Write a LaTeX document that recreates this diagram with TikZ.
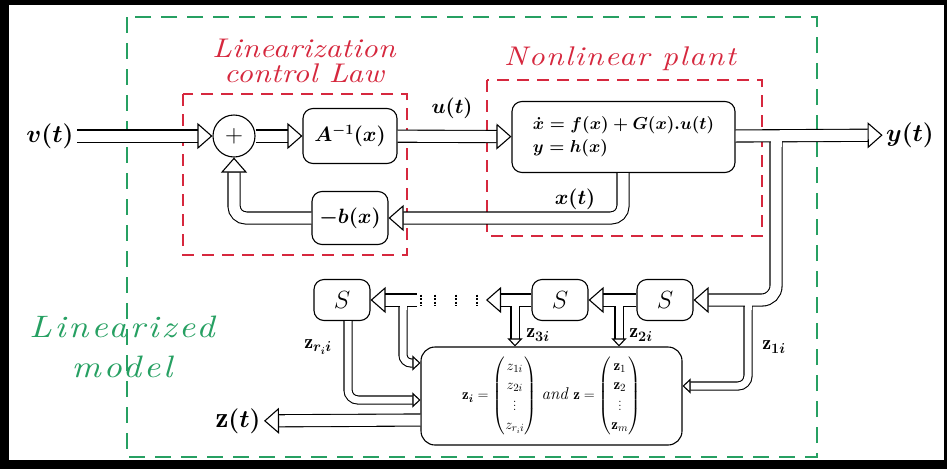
\documentclass[tikz,border=0pt]{standalone}
\usepackage{amsmath}
\usepackage{fontspec}
\usetikzlibrary{arrows.meta, positioning, calc}

\newfontfamily\labelit{lmroman10-italic.otf}
\definecolor{lawred}{RGB}{214,40,62}
\definecolor{modelgreen}{RGB}{38,160,98}
\newcommand{\spaced}[1]{\addfontfeatures{LetterSpace=#1}}

\tikzset{
  block/.style={draw, line width=1.1pt, rounded corners=10pt, fill=white, inner sep=2pt},
  sumnode/.style={draw, circle, line width=1.1pt, minimum size=42pt, inner sep=0pt, fill=white},
  bigarrow/.style={double=white, double distance=11pt, line width=1.1pt,
    -{Triangle[open, length=15pt, width=26pt, line width=1.1pt]}},
  smallarrow/.style={double=white, double distance=7pt, line width=1.1pt,
    -{Triangle[open, length=8pt, width=15pt, line width=1.1pt]}},
  gapbig/.style={draw=white, line width=11pt},
  gapsmall/.style={draw=white, line width=7pt},
  redbox/.style={draw=lawred, line width=1.4pt, dash pattern=on 12pt off 8pt},
  greenbox/.style={draw=modelgreen, line width=1.4pt, dash pattern=on 16pt off 10pt},
  grouplbl/.style={xscale=1.15, align=center},
  biglbl/.style={font=\fontsize{29}{32}\selectfont},
  midlbl/.style={font=\fontsize{22}{24}\selectfont},
  zlbl/.style={font=\fontsize{20}{22}\selectfont}
}

\begin{document}
\begin{tikzpicture}[x=1pt, y=-1pt]
  % frame
  \fill[black] (0,0) rectangle (947,469);
  \fill[white] (9,5) rectangle (944,460);
  \useasboundingbox (0,0) rectangle (947,469);

  % dashed groups
  \draw[greenbox] (127,17) rectangle (817,457);
  \draw[redbox] (183,94) rectangle (407,255);
  \draw[redbox] (487,80) rectangle (762,236);

  \node[grouplbl, lawred, font=\fontsize{27}{25}\selectfont\labelit\spaced{1}]
    (lawlbl) at (304,61) {Linearization\\control Law};
  \node[grouplbl, lawred, font=\fontsize{27}{25}\selectfont\labelit\spaced{5}]
    (plantlbl) at (620,59) {Nonlinear plant};
  \node[grouplbl, modelgreen, font=\fontsize{31}{40}\selectfont\labelit\spaced{8}]
    (modellbl) at (122,347) {Linearized\\model};

  % --- main loop ---
  \node[biglbl] (vin) at (50,136) {$\boldsymbol{v(t)}$};
  \node[sumnode, font=\fontsize{24}{26}\selectfont] (sum) at (234,136) {$+$};
  \node[block, minimum width=94pt, minimum height=55pt, midlbl] (Ainv) at (350,136)
    {$\boldsymbol{A^{-1}(x)}$};
  \node[block, minimum width=223pt, minimum height=71pt, align=left,
    font=\fontsize{18}{23}\selectfont] (plant) at (623.5,137)
    {$\boldsymbol{\dot x = f(x) + G(x).u(t)}$\\$\boldsymbol{y = h(x)}$};
  \node[midlbl] (ulbl) at (452,108) {$\boldsymbol{u(t)}$};
  \node[biglbl] (yout) at (910,135) {$\boldsymbol{y(t)}$};
  \node[block, minimum width=76pt, minimum height=53pt, midlbl] (negb) at (350,218)
    {$\boldsymbol{-b(x)}$};
  \node[midlbl] (xlbl) at (575,199) {$\boldsymbol{x(t)}$};

  % --- delay chain ---
  \node[block, minimum width=56pt, minimum height=41pt, font=\fontsize{25}{26}\selectfont]
    (S1) at (665,300) {$S$};
  \node[block, minimum width=56pt, minimum height=41pt, font=\fontsize{25}{26}\selectfont]
    (S2) at (560,300) {$S$};
  \node[block, minimum width=56pt, minimum height=41pt, font=\fontsize{25}{26}\selectfont]
    (Sr) at (342,300) {$S$};
  \node[block, rounded corners=14pt, minimum width=261pt, minimum height=98pt,
    font=\fontsize{15}{19}\selectfont] (zbox) at (551.5,396)
    {$\mathbf{z}_{\boldsymbol{i}} = \begin{pmatrix} z_{1i}\\ z_{2i}\\ \vdots\\ z_{r_i i}\end{pmatrix}$
     {\fontsize{17}{19}\selectfont\textit{and}} $\mathbf{z} = \begin{pmatrix} \mathbf{z}_1\\ \mathbf{z}_2\\ \vdots\\ \mathbf{z}_m\end{pmatrix}$};
  \node[biglbl] (zout) at (238,421) {$\mathbf{z}\boldsymbol{(t)}$};

  \node[zlbl] (z1lbl) at (774,347) {$\mathbf{z}_{\boldsymbol{1i}}$};
  \node[zlbl] (z2lbl) at (641,335) {$\mathbf{z}_{\boldsymbol{2i}}$};
  \node[zlbl] (z3lbl) at (538,335) {$\mathbf{z}_{\boldsymbol{3i}}$};
  \node[zlbl] (zrlbl) at (318,347) {$\mathbf{z}_{\boldsymbol{r_i i}}$};

  \coordinate (ybr) at (776,136);
  \coordinate (z1br) at (748,300);
  \coordinate (z2br) at (619,300);
  \coordinate (z3br) at (515,300);
  \coordinate (zrbr) at (403,300);
  \coordinate (dotsR) at (486,300);
  \coordinate (dotsL) at (417,300);
  \coordinate (fb) at (623,173);

  % forward path
  \draw[bigarrow] (vin) -- (sum);
  \draw[bigarrow] (sum) -- (Ainv);
  \draw[bigarrow] (Ainv) -- (plant);

  % feedback
  \draw[bigarrow, rounded corners=12pt] (fb) |- (negb.east);
  \draw[bigarrow, rounded corners=12pt] (negb.west) -| (sum.south);

  % branches into the chain
  \draw[smallarrow, rounded corners=10pt] (z1br) |- ([yshift=10pt]zbox.east);
  \draw[bigarrow, rounded corners=14pt] (ybr) |- (S1.east);
  \draw[gapsmall] (z1br) -- ++(0,10);
  \draw[bigarrow] (plant.east |- ybr) -- (yout);
  \draw[gapbig] (ybr) -- ++(0,11);

  \draw[smallarrow] (z2br) -- (z2br |- zbox.north);
  \draw[bigarrow] (S1) -- (S2);
  \draw[gapsmall] (z2br) -- ++(0,10);

  \draw[smallarrow] (z3br) -- (z3br |- zbox.north);
  \draw[bigarrow] (S2) -- (dotsR);
  \draw[gapsmall] (z3br) -- ++(0,10);

  \draw[smallarrow, rounded corners=8pt] (zrbr) |- ([yshift=33pt]zbox.west);
  \draw[bigarrow] (dotsL) -- (Sr);
  \draw[gapsmall] (zrbr) -- ++(0,10);

  \foreach \x in {421,435,456,477}
    \draw[line width=2.6pt, dash pattern=on 2pt off 1.6pt] (\x,294.5) -- (\x,306);

  \draw[smallarrow, rounded corners=10pt] ([xshift=6pt]Sr.south) |- ([yshift=-4pt]zbox.west);
  \draw[bigarrow] ([yshift=-24pt]zbox.west) -- (zout);
\end{tikzpicture}
\end{document}
